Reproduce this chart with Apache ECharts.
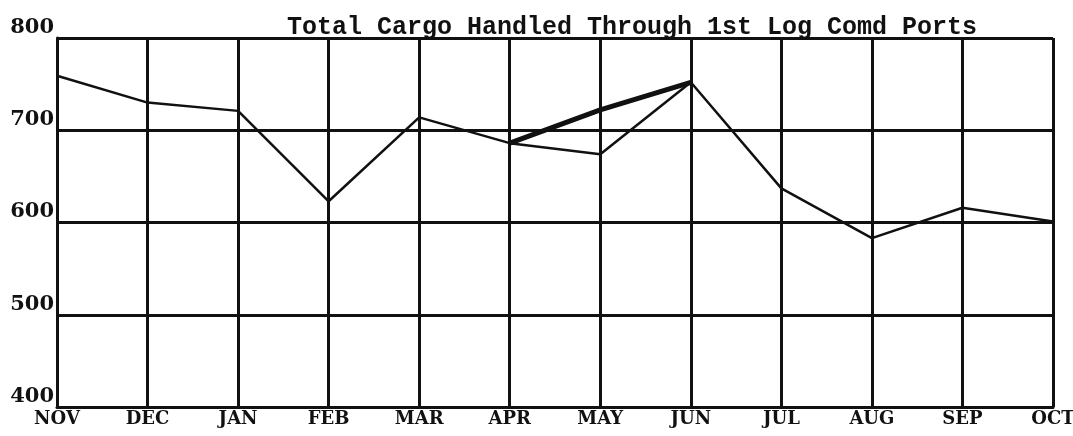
<!DOCTYPE html>
<html>
<head>
<meta charset="utf-8">
<script src="https://cdn.jsdelivr.net/npm/echarts@6/dist/echarts.min.js"></script>
<style>
  html, body { margin: 0; padding: 0; background: #fff; }
  #chart { width: 1073px; height: 436px; }
</style>
</head>
<body>
<div id="chart"></div>
<script>
var months = ['NOV', 'DEC', 'JAN', 'FEB', 'MAR', 'APR', 'MAY', 'JUN', 'JUL', 'AUG', 'SEP', 'OCT'];
var cargo = [759, 730, 721, 623, 714, 686, 674, 752, 637, 583, 616, 601];
// hand drawn heavier line between APR and JUN
var revised = [null, null, null, null, null, 686, 722, 752, null, null, null, null];
var yTicks = [400, 500, 600, 700, 800];

var chart = echarts.init(document.getElementById('chart'));

chart.setOption({
    animation: false,
    backgroundColor: '#fff',
    title: {
        text: 'Total Cargo Handled Through 1st Log Comd Ports',
        left: 627,
        top: 10,
        textAlign: 'center',
        textStyle: {
            fontFamily: 'Liberation Mono',
            fontWeight: 'bold',
            fontSize: 25,
            color: '#111'
        }
    },
    grid: { left: 57, right: 20, top: 38, bottom: 29, outerBoundsMode: 'none' },
    xAxis: {
        type: 'category',
        data: months,
        boundaryGap: false,
        axisLine: { lineStyle: { color: '#111', width: 3 } },
        axisTick: { show: false },
        splitLine: { show: true, lineStyle: { color: '#111', width: 3 } },
        axisLabel: {
            fontFamily: 'DejaVu Serif',
            fontWeight: 'bold',
            fontSize: 18,
            color: '#111',
            margin: 3
        }
    },
    yAxis: {
        type: 'value',
        min: yTicks[0],
        max: yTicks[yTicks.length - 1],
        interval: 100,
        axisLine: { show: true, lineStyle: { color: '#111', width: 3 } },
        axisTick: { show: false },
        splitLine: { lineStyle: { color: '#111', width: 3 } },
        axisLabel: {
            fontFamily: 'DejaVu Serif',
            fontWeight: 'bold',
            fontSize: 21,
            color: '#111',
            margin: 3,
            verticalAlign: 'bottom'
        }
    },
    series: [
        {
            type: 'line',
            data: cargo,
            symbol: 'none',
            lineStyle: { color: '#111', width: 2.5 }
        },
        {
            type: 'line',
            data: revised,
            symbol: 'none',
            lineStyle: { color: '#111', width: 5 }
        }
    ]
});
</script>
</body>
</html>
